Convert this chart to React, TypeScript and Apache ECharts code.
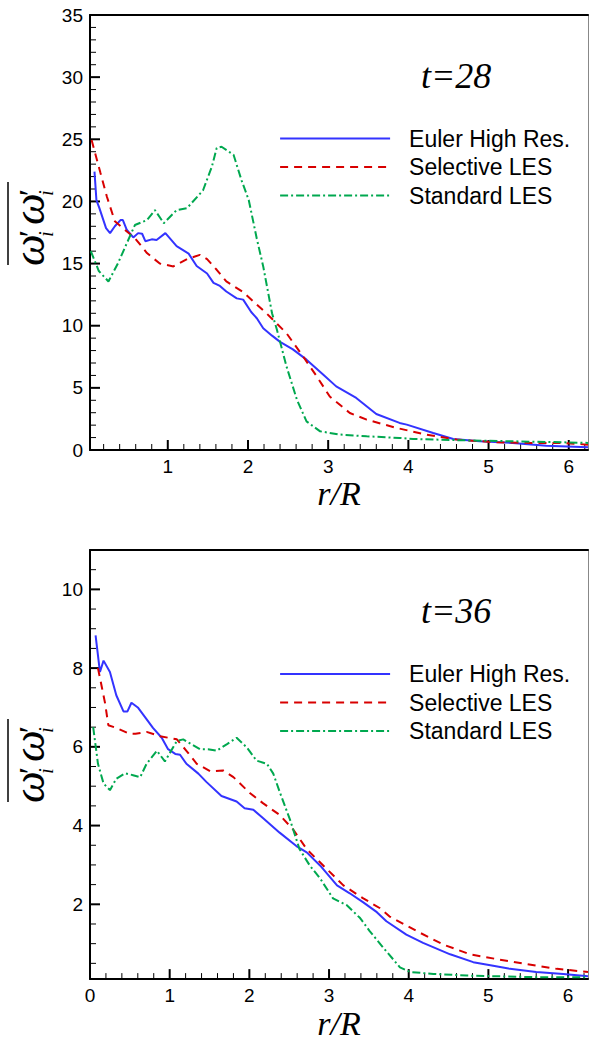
import React, { useEffect, useRef } from 'react';
import * as echarts from 'echarts';

// ---------------- data ----------------
const seriesNames = ['Euler High Res.', 'Selective LES', 'Standard LES'];
const panelTitles = ['t=28', 't=36'];

// t = 28 : [r/R, value]
const t28Euler = [
  [0.086, 22.4], [0.11, 20.1], [0.145, 19.5], [0.23, 17.85], [0.28, 17.45], [0.34, 18.0], [0.41, 18.5],
  [0.44, 18.5], [0.49, 17.7], [0.57, 17.1], [0.63, 17.45], [0.68, 17.4], [0.72, 16.8], [0.8, 16.95],
  [0.86, 16.9], [0.97, 17.45], [1.11, 16.4], [1.26, 15.8], [1.36, 14.8], [1.49, 14.2], [1.57, 13.45],
  [1.65, 13.2], [1.73, 12.75], [1.86, 12.2], [1.94, 12.1], [2.04, 11.1], [2.11, 10.6], [2.19, 9.8],
  [2.3, 9.2], [2.4, 8.7], [2.56, 8.1], [2.73, 7.27], [2.94, 6.06], [3.1, 5.12], [3.35, 4.19], [3.6, 2.9],
  [3.89, 2.18], [3.98, 2.04], [4.31, 1.37], [4.56, 0.89], [4.89, 0.7], [5.3, 0.57], [5.72, 0.35], [6.24, 0.22],
];
const t28Selective = [
  [0.05, 24.95], [0.16, 22.3], [0.24, 20.4], [0.34, 18.4], [0.45, 17.8], [0.59, 17.05], [0.74, 15.85],
  [0.9, 15.0], [1.07, 14.77], [1.24, 15.36], [1.4, 15.7], [1.49, 15.36], [1.61, 14.5], [1.73, 13.56],
  [1.94, 12.7], [2.23, 11.0], [2.48, 9.4], [2.69, 7.5], [2.86, 5.9], [3.02, 4.3], [3.27, 2.98], [3.48, 2.44],
  [3.85, 1.78], [4.22, 1.24], [4.6, 0.84], [5.1, 0.62], [5.51, 0.57], [5.93, 0.57], [6.24, 0.43],
];
const t28Standard = [
  [0.04, 16.0], [0.14, 14.4], [0.26, 13.56], [0.38, 15.04], [0.49, 16.65], [0.59, 18.1], [0.74, 18.5],
  [0.84, 19.3], [0.95, 18.25], [1.11, 19.3], [1.24, 19.46], [1.44, 20.9], [1.55, 22.8], [1.61, 24.3],
  [1.67, 24.4], [1.82, 23.75], [1.92, 21.7], [2.01, 20.1], [2.11, 17.0], [2.19, 14.77], [2.3, 11.0],
  [2.36, 9.7], [2.48, 6.73], [2.61, 4.05], [2.73, 2.3], [2.9, 1.5], [3.15, 1.24], [3.48, 1.1], [3.89, 0.97],
  [4.06, 0.89], [4.68, 0.78], [5.3, 0.7], [5.93, 0.62], [6.24, 0.57],
];

// t = 36 : [r/R, value]
const t36Euler = [
  [0.07, 8.83], [0.125, 7.9], [0.17, 8.19], [0.25, 7.9], [0.33, 7.31], [0.42, 6.9], [0.47, 6.9], [0.52, 7.12],
  [0.6, 7.0], [0.7, 6.73], [0.79, 6.48], [0.9, 6.23], [0.98, 5.94], [1.07, 5.82], [1.13, 5.8], [1.21, 5.57],
  [1.36, 5.32], [1.46, 5.11], [1.65, 4.75], [1.84, 4.61], [1.94, 4.44], [2.05, 4.4], [2.17, 4.19], [2.38, 3.82],
  [2.59, 3.48], [2.72, 3.32], [2.89, 2.98], [3.1, 2.48], [3.26, 2.28], [3.43, 2.05], [3.6, 1.8], [3.72, 1.57],
  [3.97, 1.23], [4.18, 1.02], [4.52, 0.73], [4.81, 0.53], [5.06, 0.44], [5.27, 0.36], [5.6, 0.28], [5.94, 0.23],
  [6.25, 0.17],
];
const t36Selective = [
  [0.1, 8.0], [0.15, 7.5], [0.19, 7.1], [0.23, 6.55], [0.33, 6.48], [0.5, 6.33], [0.57, 6.33], [0.71, 6.38],
  [0.88, 6.27], [1.09, 6.19], [1.21, 5.9], [1.34, 5.57], [1.51, 5.38], [1.67, 5.4], [1.8, 5.23], [2.01, 4.82],
  [2.17, 4.57], [2.38, 4.27], [2.55, 3.9], [2.72, 3.4], [2.93, 2.98], [3.18, 2.48], [3.43, 2.15], [3.64, 1.9],
  [3.76, 1.69], [4.1, 1.32], [4.43, 0.98], [4.77, 0.73], [5.1, 0.61], [5.48, 0.48], [5.86, 0.36], [6.25, 0.28],
];
const t36Standard = [
  [0.04, 6.5], [0.1, 5.57], [0.17, 5.07], [0.25, 4.9], [0.33, 5.19], [0.44, 5.33], [0.54, 5.28], [0.63, 5.23],
  [0.71, 5.57], [0.84, 5.9], [0.94, 5.63], [1.09, 6.15], [1.17, 6.19], [1.38, 5.94], [1.48, 5.94], [1.59, 5.9],
  [1.72, 6.07], [1.84, 6.23], [1.97, 5.98], [2.09, 5.65], [2.22, 5.57], [2.3, 5.32], [2.38, 4.86], [2.51, 4.15],
  [2.63, 3.4], [2.76, 2.98], [2.89, 2.65], [3.05, 2.15], [3.22, 1.98], [3.39, 1.65], [3.51, 1.32], [3.68, 0.9],
  [3.89, 0.4], [4.02, 0.28], [4.31, 0.23], [4.73, 0.19], [5.14, 0.17], [5.56, 0.15], [6.25, 0.15],
];

// axis ticks / labels
const topXMajor = [1, 2, 3, 4, 5, 6];
const topYMajor = [0, 5, 10, 15, 20, 25, 30, 35];
const botXMajor = [0, 1, 2, 3, 4, 5, 6];
const botYMajor = [2, 4, 6, 8, 10];

const minorTicks = (from: number, to: number, step: number, majorStep: number) => {
  const out: number[] = [];
  for (let k = Math.ceil(from / step - 1e-9); k * step <= to + 1e-9; k++) {
    const v = Math.round(k * step * 1000) / 1000;
    const r = v / majorStep;
    if (Math.abs(r - Math.round(r)) > 1e-6) out.push(v);
  }
  return out;
};

// ---------------- styles ----------------
const COLORS = ['#3333ff', '#d80000', '#00a84f'];
const DASHES: any[] = ['solid', [8, 6], [8, 3, 2, 3]];
const SANS = 'Liberation Sans, Arial, Helvetica, sans-serif';
const SERIF = 'Liberation Serif, Times New Roman, serif';

const LEFT = 90;
const PLOT_W = 498;
const PLOT_H = 435;
const TOPS = [15, 550];

function dataXAxis(grid: number, min: number, max: number, majors: number[]) {
  return {
    type: 'value', gridIndex: grid, position: 'bottom', min, max,
    axisLine: { show: true, onZero: false, lineStyle: { color: '#000', width: 2 } },
    axisTick: { show: false },
    axisLabel: { show: true, customValues: majors, margin: 7, fontFamily: SANS, fontSize: 19, color: '#000' },
    splitLine: { show: false },
    name: 'r/R', nameLocation: 'middle', nameGap: 17,
    nameTextStyle: { fontFamily: SERIF, fontStyle: 'italic', fontSize: 34, color: '#000' },
  };
}
function borderXAxis(grid: number, min: number, max: number) {
  return {
    type: 'value', gridIndex: grid, position: 'top', min, max,
    axisLine: { show: true, onZero: false, lineStyle: { color: '#000', width: 2 } },
    axisTick: { show: false }, axisLabel: { show: false }, splitLine: { show: false },
  };
}
function dataYAxis(grid: number, min: number, max: number, majors: number[]) {
  return {
    type: 'value', gridIndex: grid, position: 'left', min, max,
    axisLine: { show: true, onZero: false, lineStyle: { color: '#000', width: 2 } },
    axisTick: { show: false },
    axisLabel: { show: true, customValues: majors, margin: 7, fontFamily: SANS, fontSize: 19, color: '#000' },
    splitLine: { show: false },
  };
}
function borderYAxis(grid: number, min: number, max: number) {
  return {
    type: 'value', gridIndex: grid, position: 'right', min, max,
    axisLine: { show: true, onZero: false, lineStyle: { color: '#888', width: 1 } },
    axisTick: { show: false }, axisLabel: { show: false }, splitLine: { show: false },
  };
}

// tick marks drawn through the axes' own scales (custom series)
function tickSeries(g: number, dim: 'x' | 'y', values: number[], other: number, len: number, width: number) {
  return {
    type: 'custom', xAxisIndex: g * 2, yAxisIndex: g * 2, silent: true, clip: false, z: 1,
    data: values.map((v) => (dim === 'x' ? [v, other] : [other, v])),
    renderItem: (_params: any, api: any) => {
      const p = api.coord([api.value(0), api.value(1)]);
      const shape = dim === 'x'
        ? { x1: p[0], y1: p[1], x2: p[0], y2: p[1] - len }
        : { x1: p[0], y1: p[1], x2: p[0] + len, y2: p[1] };
      return { type: 'line', shape, style: { stroke: '#000', lineWidth: width } };
    },
  };
}

function yName(bottom: number) {
  const om = { fontFamily: SERIF, fontStyle: 'italic', fontSize: 45, fill: '#000' };
  const pr = { fontFamily: SERIF, fontSize: 32, fill: '#000' };
  const ii = { fontFamily: SERIF, fontStyle: 'italic', fontSize: 21, fill: '#000' };
  const t = (text: string, x: number, y: number, st: any) => ({
    type: 'text', x, y, style: { text, ...st, align: 'left', verticalAlign: 'middle' },
  });
  return [
    {
      type: 'group', x: 0, y: bottom, rotation: Math.PI / 2, silent: true,
      children: [
        t('ω', -1, 29, om),
        t('′', 28, 30, pr),
        t('i', 28, 46, ii),
        t('ω', 40, 29, om),
        t('′', 69, 30, pr),
        t('i', 69, 46, ii),
      ],
    },
    {
      type: 'line', silent: true,
      shape: { x1: 8, y1: bottom - 83, x2: 8, y2: bottom },
      style: { stroke: '#000', lineWidth: 1.5 },
    },
  ];
}

export default function App() {
  const ref = useRef<HTMLDivElement>(null);
  useEffect(() => {
    document.body.style.margin = '0';
    if (!ref.current) return;
    const chart = echarts.init(ref.current, null, { renderer: 'svg' });

    const ranges = [
      { xMin: 0.03, xMax: 6.24, yMin: 0, yMax: 35, xMajor: topXMajor, yMajor: topYMajor, yMinStep: 1, yMajStep: 5 },
      { xMin: 0, xMax: 6.25, yMin: 0.1, yMax: 11, xMajor: botXMajor, yMajor: botYMajor, yMinStep: 0.5, yMajStep: 2 },
    ];
    const xAxis: any[] = [];
    const yAxis: any[] = [];
    const series: any[] = [];
    ranges.forEach((r, g) => {
      xAxis.push(dataXAxis(g, r.xMin, r.xMax, r.xMajor));
      xAxis.push(borderXAxis(g, r.xMin, r.xMax));
      yAxis.push(dataYAxis(g, r.yMin, r.yMax, r.yMajor));
      yAxis.push(borderYAxis(g, r.yMin, r.yMax));
      series.push(tickSeries(g, 'x', r.xMajor, r.yMin, 10, 2));
      series.push(tickSeries(g, 'x', minorTicks(r.xMin, r.xMax, 0.2, 1), r.yMin, 6, 1));
      series.push(tickSeries(g, 'y', r.yMajor, r.xMin, 10, 2));
      series.push(tickSeries(g, 'y', minorTicks(r.yMin, r.yMax, r.yMinStep, r.yMajStep), r.xMin, 6, 1));
    });

    const panels = [
      [t28Euler, t28Selective, t28Standard],
      [t36Euler, t36Selective, t36Standard],
    ];
    panels.forEach((sets, g) => {
      sets.forEach((data, i) => {
        series.push({
          type: 'line', name: seriesNames[i], data,
          xAxisIndex: g * 2, yAxisIndex: g * 2,
          showSymbol: false, symbol: 'none', silent: true, z: 3,
          lineStyle: { color: COLORS[i], width: 2, type: DASHES[i] },
          itemStyle: { color: COLORS[i] },
        });
      });
    });

    chart.setOption({
      animation: false,
      backgroundColor: '#fff',
      grid: TOPS.map((top) => ({ left: LEFT, top, width: PLOT_W, height: PLOT_H, containLabel: false })),
      xAxis, yAxis, series,
      title: panelTitles.map((text, i) => ({
        text, left: 421, top: [58, 593][i], padding: 0,
        textStyle: { fontFamily: SERIF, fontStyle: 'italic', fontWeight: 'normal', fontSize: 36, color: '#000' },
      })),
      legend: [127, 662.5].map((top) => ({
        left: 279, top, orient: 'vertical', padding: 0,
        itemWidth: 110, itemHeight: 20, itemGap: 5.5, selectedMode: false,
        data: seriesNames,
        itemStyle: { opacity: 0 },
        lineStyle: { width: 2.2 },
        textStyle: { fontFamily: SANS, fontSize: 23, color: '#000', lineHeight: 20, padding: [0, 0, 0, 14] },
      })),
      graphic: [...yName(265), ...yName(802)],
    });
    return () => chart.dispose();
  }, []);
  return <div ref={ref} style={{ width: 589, height: 1041 }} />;
}
